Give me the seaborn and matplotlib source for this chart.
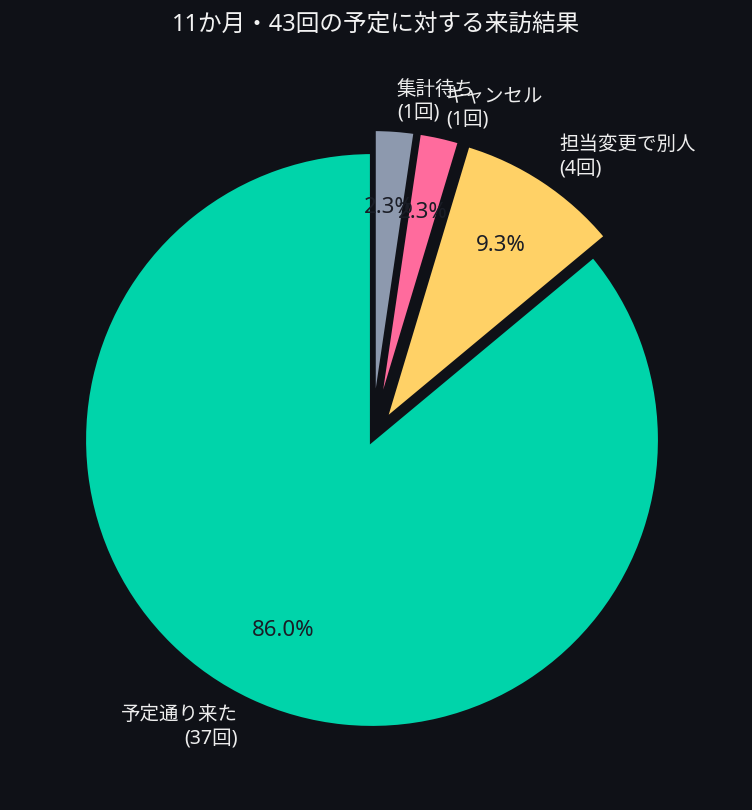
import matplotlib
matplotlib.use("Agg")
import matplotlib.pyplot as plt
import seaborn as sns

# visit outcomes for 43 scheduled visits over 11 months
labels = ["予定通り来た\n(37回)", "担当変更で別人\n(4回)", "キャンセル\n(1回)", "集計待ち\n(1回)"]
counts = [37, 4, 1, 1]
colors = ["#00D4AA", "#FFD166", "#FF6B9D", "#8D99AE"]
explode = [0, 0.08, 0.08, 0.08]

bg = "#0F1117"
sns.set_theme(style="dark")
plt.rcParams["font.family"] = ["Noto Sans", "Noto Sans CJK JP", "DejaVu Sans"]

fig = plt.figure(figsize=(7.52, 8.10), dpi=100)
fig.patch.set_facecolor(bg)
# pie radius ~288px, centre near (372, 440)
ax = fig.add_axes([12 / 752, 10 / 810, 720 / 752, 720 / 810])
ax.set_facecolor(bg)

wedges, texts, autotexts = ax.pie(
    counts, labels=labels, colors=colors, explode=explode,
    startangle=90, counterclock=True, autopct="%1.1f%%",
    pctdistance=0.73, labeldistance=1.1,
    wedgeprops=dict(edgecolor=bg, linewidth=3),
    textprops=dict(color="#EDEDED", fontsize=14),
)
for t in autotexts:
    t.set_color("#1A1D26")
    t.set_fontsize(16)

fig.suptitle("11か月・43回の予定に対する来訪結果", color="#F2F2F2", fontsize=17,
             y=1 - 25 / 810, va="center")
ax.set_aspect("equal")
plt.savefig("out.png", dpi=100, facecolor=bg)
